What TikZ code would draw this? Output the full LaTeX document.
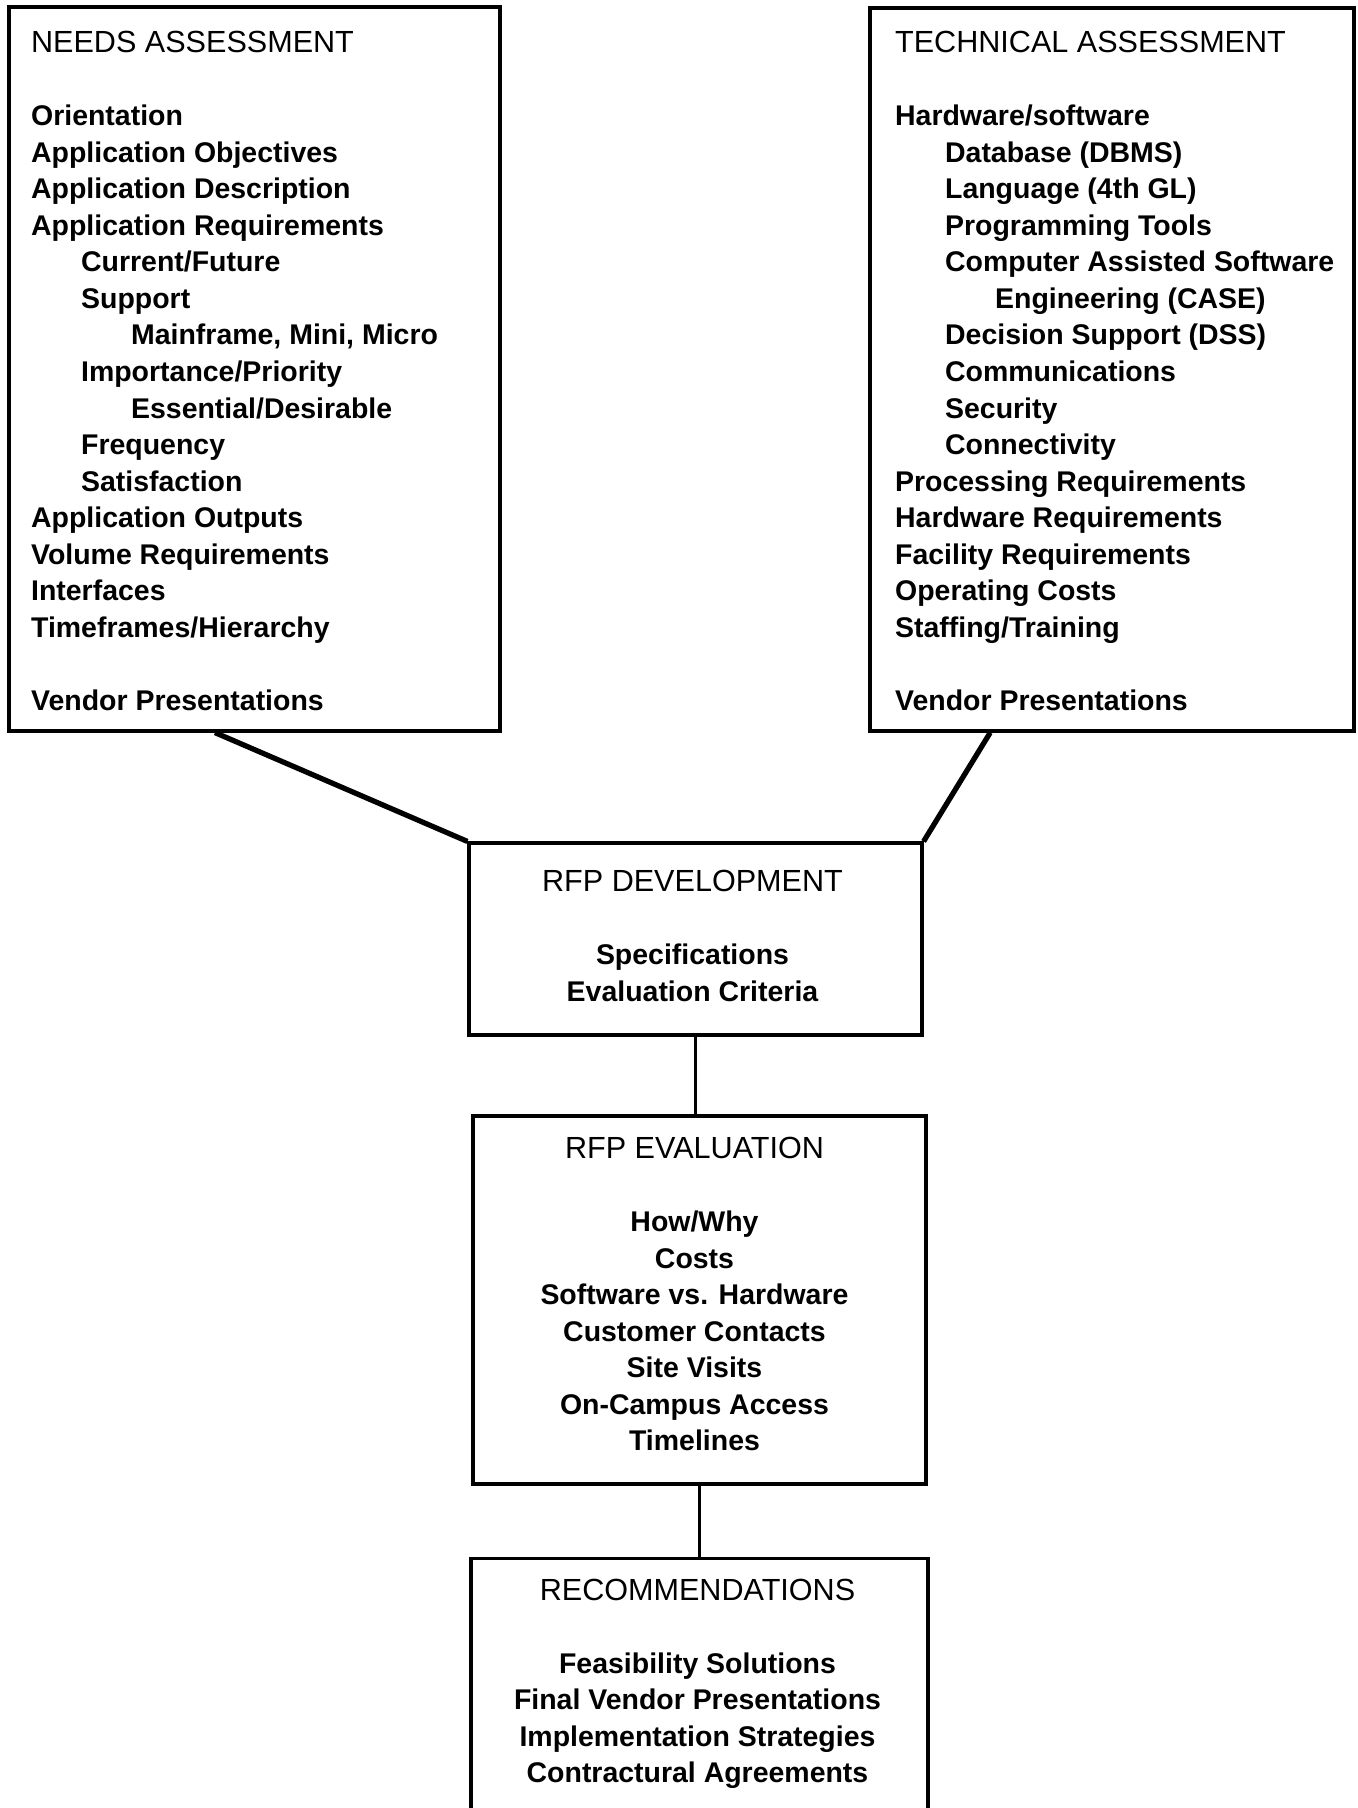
\documentclass[tikz,border=0pt]{standalone}
\usepackage{fontspec}
\setmainfont{Liberation Sans}
\usepackage{tikz}
\usetikzlibrary{positioning, calc}

\newcommand{\lvlone}{\hspace*{5mm}}
\newcommand{\lvltwo}{\hspace*{10mm}}
\newcommand{\boxhead}[1]{{\mdseries\fontsize{8.7pt}{10.4pt}\selectfont #1}}

\begin{document}
\begin{tikzpicture}[x=0.1mm, y=-0.1mm,
    panel/.style={draw, line width=0.9pt, inner sep=0pt},
    items/.style={inner sep=0pt, font=\fontsize{8.1pt}{10.4pt}\selectfont\bfseries},
    link/.style={line width=1.5pt}]
    \useasboundingbox (0,0) rectangle (1357,1808);
    \clip (0,0) rectangle (1357,1808);

    % the two assessments
    \node[panel, minimum width=49.1mm, minimum height=72.4mm] (needs) at (254.5,369) {};
    \node[items, align=left, anchor=north west] (needslist) at ($(needs.north west)+(23,25)$) {%
        \boxhead{NEEDS ASSESSMENT}\\[10.4pt]
        Orientation\\
        Application Objectives\\
        Application Description\\
        Application Requirements\\
        \lvlone Current/Future\\
        \lvlone Support\\
        \lvltwo Mainframe, Mini, Micro\\
        \lvlone Importance/Priority\\
        \lvltwo Essential/Desirable\\
        \lvlone Frequency\\
        \lvlone Satisfaction\\
        Application Outputs\\
        Volume Requirements\\
        Interfaces\\
        Timeframes/Hierarchy\\[10.4pt]
        Vendor Presentations};

    \node[panel, minimum width=48.4mm, minimum height=72.3mm] (tech) at (1112,369.5) {};
    \node[items, align=left, anchor=north west] (techlist) at ($(tech.north west)+(26,24)$) {%
        \boxhead{TECHNICAL ASSESSMENT}\\[10.4pt]
        Hardware/software\\
        \lvlone Database (DBMS)\\
        \lvlone Language (4th GL)\\
        \lvlone Programming Tools\\
        \lvlone Computer Assisted Software\\
        \lvltwo Engineering (CASE)\\
        \lvlone Decision Support (DSS)\\
        \lvlone Communications\\
        \lvlone Security\\
        \lvlone Connectivity\\
        Processing Requirements\\
        Hardware Requirements\\
        Facility Requirements\\
        Operating Costs\\
        Staffing/Training\\[10.4pt]
        Vendor Presentations};

    % RFP stages
    \node[panel, minimum width=45.3mm, minimum height=19.2mm] (dev) at (695.5,939) {};
    \node[items, align=center, anchor=north] (devlist) at ($(dev.north)+(-3,28)$) {%
        \boxhead{RFP DEVELOPMENT}\\[10.4pt]
        Specifications\\
        Evaluation Criteria};

    \node[panel, minimum width=45.3mm, minimum height=36.8mm] (eval) at (699.5,1300) {};
    \node[items, align=center, anchor=north] (evallist) at ($(eval.north)+(-5,22)$) {%
        \boxhead{RFP EVALUATION}\\[10.4pt]
        How/Why\\
        Costs\\
        Software vs. Hardware\\
        Customer Contacts\\
        Site Visits\\
        On-Campus Access\\
        Timelines};

    \node[panel, minimum width=45.7mm, minimum height=30mm, anchor=north] (rec) at (699.5,1557) {};
    \node[items, align=center, anchor=north] (reclist) at ($(rec.north)+(-2,21)$) {%
        \boxhead{RECOMMENDATIONS}\\[10.4pt]
        Feasibility Solutions\\
        Final Vendor Presentations\\
        Implementation Strategies\\
        Contractural Agreements};

    % connectors
    \draw[link] ($(needs.south west)!.42!(needs.south east)$) -- (dev.north west);
    \draw[link] ($(tech.south west)!.25!(tech.south east)$) -- (dev.north east);
    \draw[line width=0.9pt] (dev.south) -- (dev.south |- eval.north);
    \draw[line width=0.9pt] (eval.south) -- (rec.north);
\end{tikzpicture}
\end{document}
